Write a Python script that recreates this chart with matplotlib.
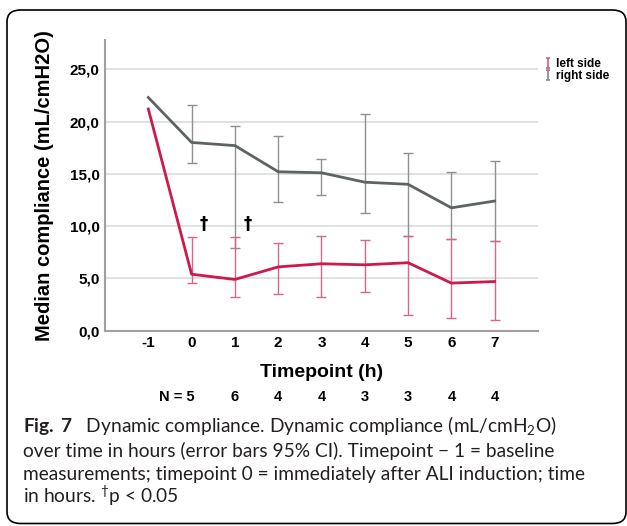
import matplotlib.pyplot as plt
from matplotlib.lines import Line2D
from matplotlib.patches import FancyBboxPatch
from matplotlib.path import Path
from matplotlib.ticker import FuncFormatter

plt.rcParams['font.family'] = ['Liberation Sans', 'DejaVu Sans']
plt.rcParams['axes.unicode_minus'] = False
plt.rcParams['mathtext.fontset'] = 'custom'
plt.rcParams['mathtext.rm'] = 'Lato'
plt.rcParams['mathtext.bf'] = 'Lato:bold'

timepoints = [-1, 0, 1, 2, 3, 4, 5, 6, 7]
n_counts = [5, 6, 4, 4, 3, 3, 4, 4]

right_median = [22.3, 18.0, 17.7, 15.2, 15.1, 14.2, 14.0, 11.75, 12.4]
right_lo = [None, 16.0, 7.9, 12.3, 13.0, 11.3, 9.05, 8.8, 8.6]
right_hi = [None, 21.6, 19.6, 18.6, 16.4, 20.7, 17.0, 15.2, 16.2]

left_median = [21.2, 5.4, 4.9, 6.1, 6.4, 6.3, 6.5, 4.55, 4.7]
left_lo = [None, 4.6, 3.2, 3.5, 3.2, 3.7, 1.5, 1.25, 1.0]
left_hi = [None, 9.0, 9.0, 8.35, 9.1, 8.7, 9.05, 8.8, 8.6]

dagger_x = [0.29, 1.29]
dagger_y = 10.2

red = '#cc1a4c'
red_err = '#d9668a'
grey = '#5e6461'
grey_err = '#8f8f8f'

fig = plt.figure(figsize=(6.27, 5.26), dpi=100)
ax = fig.add_axes([0.1675, 0.3713, 0.6905, 0.5527])


def draw_series(med, lo, hi, line_col, err_col):
    idx = [i for i, l in enumerate(lo) if l is not None]
    xs = [timepoints[i] for i in idx]
    m = [med[i] for i in idx]
    lower = [med[i] - lo[i] for i in idx]
    upper = [hi[i] - med[i] for i in idx]
    ax.errorbar(xs, m, yerr=[lower, upper], fmt='none', ecolor=err_col,
                elinewidth=1.0, capsize=3.8, capthick=1.0, zorder=3)
    ax.plot(timepoints, med, color=line_col, lw=2.0, zorder=4)


draw_series(right_median, right_lo, right_hi, grey, grey_err)
draw_series(left_median, left_lo, left_hi, red, red_err)

for dx in dagger_x:
    ax.text(dx, dagger_y, '\u2020', ha='center', va='center', fontsize=12,
            fontweight='bold', family=['DejaVu Sans'])

ax.set_xlim(-2, 8)
ax.set_ylim(0, 27.8)
ax.set_xticks(timepoints)
ax.set_yticks([0, 5, 10, 15, 20, 25])
ax.yaxis.set_major_formatter(FuncFormatter(lambda v, p: f'{v:.1f}'.replace('.', ',')))
ax.tick_params(length=0, labelsize=11, pad=4)
for lab in ax.get_xticklabels() + ax.get_yticklabels():
    lab.set_fontweight('bold')
ax.grid(axis='y', color='#d9d9d9', lw=1.1)
ax.set_axisbelow(True)
for s in ['top', 'right']:
    ax.spines[s].set_visible(False)
for s in ['left', 'bottom']:
    ax.spines[s].set_color('#a0a0a0')
    ax.spines[s].set_linewidth(1.5)

ax.set_ylabel('Median compliance (mL/cmH2O)', fontsize=14.5, fontweight='bold', labelpad=11)
ax.set_xlabel('Timepoint (h)', fontsize=14, fontweight='bold', labelpad=10)

# N row under the axis
xt = ax.get_xaxis_transform()
n_y = -(396.5 - 330.7) / (330.7 - 40)
ax.text(timepoints[1] + 0.08, n_y, f'N = {n_counts[0]}', transform=xt, ha='right',
        va='center', fontsize=10.5, fontweight='bold')
for t, n in zip(timepoints[2:], n_counts[1:]):
    ax.text(t, n_y, str(n), transform=xt, ha='center', va='center',
            fontsize=10.5, fontweight='bold')

# legend with little error-bar icons
ibar = Path([(-0.5, -1), (0.5, -1), (0, -1), (0, 1), (-0.5, 1), (0.5, 1)],
            [Path.MOVETO, Path.LINETO, Path.MOVETO, Path.LINETO, Path.MOVETO, Path.LINETO])
handles = [Line2D([], [], ls='none', marker=ibar, color=red_err, markersize=6.5, mew=1.3),
           Line2D([], [], ls='none', marker=ibar, color=grey_err, markersize=6.5, mew=1.3)]
fig.legend(handles, ['left side', 'right side'], loc='upper left',
           bbox_to_anchor=(0.861, 0.901), frameon=False, handlelength=0.4,
           handletextpad=0.45, labelspacing=0.0, borderpad=0,
           prop={'weight': 'bold', 'size': 8.5})

# caption
cap = [r'$\bf{Fig.\,7}$   Dynamic compliance. Dynamic compliance (mL/cmH$_2$O)',
       'over time in hours (error bars 95% CI). Timepoint \u2212 1 = baseline',
       'measurements; timepoint 0 = immediately after ALI induction; time',
       r'in hours. $^{\dagger}$p < 0.05']
cap_base = [433, 456.5, 480, 503]
for line, yy in zip(cap, cap_base):
    fig.text(23 / 627, 1 - yy / 526, line, ha='left', va='baseline', fontsize=13.8,
             family=['Lato', 'DejaVu Sans'], color='#231f20')

box = FancyBboxPatch((7 / 627, 2.5 / 526), 619 / 627, 513.5 / 526,
                     boxstyle='round,pad=0,rounding_size=0.022', transform=fig.transFigure,
                     fill=False, edgecolor='black', lw=1.2)
fig.patches.append(box)

fig.savefig('out.png', dpi=100)
